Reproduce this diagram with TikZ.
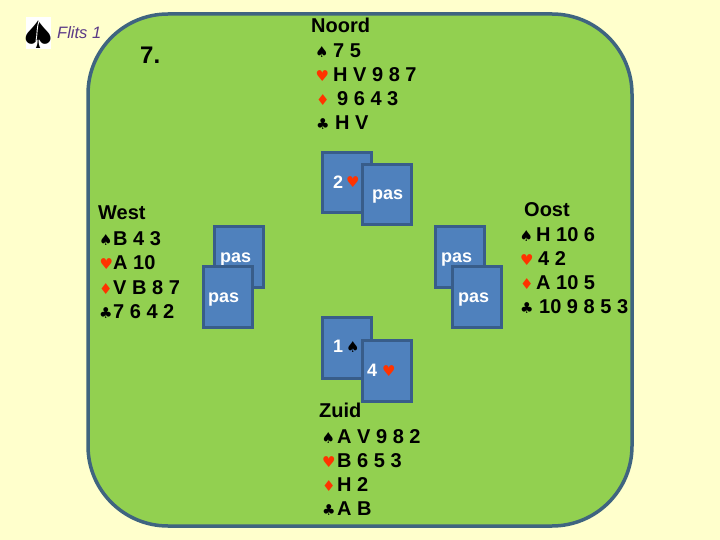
\documentclass[tikz,border=0pt]{standalone}
\usepackage{fontspec}
\setmainfont{Liberation Sans}
\newfontfamily\suitfont{DejaVu Sans}
\definecolor{bgc}{HTML}{FFFFCC}
\definecolor{boardc}{HTML}{92D050}
\definecolor{edgec}{HTML}{3F6480}
\definecolor{cardc}{HTML}{4F81BD}
\definecolor{cardedge}{HTML}{385D8A}
\definecolor{redsuit}{HTML}{FF3300}
\definecolor{purp}{HTML}{5B3A86}
\tikzset{
 x=1pt,y=-1pt,
 txt/.style={anchor=base west,inner sep=0pt,font=\fontsize{20}{24}\selectfont\bfseries,text=black},
 blk/.style={anchor=base west,inner sep=0pt,font=\fontsize{15}{18}\selectfont\suitfont,text=black},
 rd/.style={blk,text=redsuit},
 card/.style={draw=cardedge,line width=3pt,fill=cardc,minimum width=49pt,minimum height=60.5pt,inner sep=0pt,anchor=north west},
 ctxt/.style={anchor=base west,inner sep=0pt,font=\fontsize{18}{22}\selectfont\bfseries,text=white},
}
\begin{document}
\begin{tikzpicture}
\useasboundingbox (0,0) rectangle (720,540);
\fill[bgc] (0,0) rectangle (720,540);
\draw[draw=edgec,line width=3.5pt,fill=boardc,rounded corners=80pt] (88,14) rectangle (632,526);
% logo
\node[fill=white,minimum width=25pt,minimum height=32pt,inner sep=0pt,anchor=north west] (logo) at (26,17) {};
\node[inner sep=0pt,font=\fontsize{38}{40}\selectfont\suitfont,text=black,xscale=1.12] (logospade) at (39,35) {♠};
\draw[white,line width=0.9pt] (39.3,20) .. controls (36.5,27) and (37.5,34) .. (36,41);
\node[anchor=base west,inner sep=0pt,font=\fontsize{16.5}{18}\selectfont\itshape,text=purp] (flits) at (57,39) {Flits 1};
\node[anchor=base west,inner sep=0pt,font=\fontsize{24}{28}\selectfont\bfseries,text=black] (nr) at (140,64) {7.};
% North
\node[txt] (nN) at (311,33) {Noord};
\node[blk] (nS) at (315,57.7) {♠}; \node[txt] (nSt) at (333,57.7) {7 5};
\node[rd] (nH) at (315.5,81.7) {♥}; \node[txt] (nHt) at (333,81.7) {H V 9 8 7};
\node[rd] (nD) at (316,105.7) {♦}; \node[txt] (nDt) at (337,105.7) {9 6 4 3};
\node[blk] (nC) at (316,130) {♣}; \node[txt] (nCt) at (335,130) {H V};
% West
\node[txt] (wN) at (98,219) {West};
\node[blk] (wS) at (99,245) {♠}; \node[txt] (wSt) at (113,245) {B 4 3};
\node[rd] (wH) at (99.5,269) {♥}; \node[txt] (wHt) at (113,269) {A 10};
\node[rd] (wD) at (99,294) {♦}; \node[txt] (wDt) at (113,294) {V B 8 7};
\node[blk] (wC) at (99,318) {♣}; \node[txt] (wCt) at (113,318) {7 6 4 2};
% East
\node[txt] (eN) at (524,217) {Oost};
\node[blk] (eS) at (519.5,241) {♠}; \node[txt] (eSt) at (536,241) {H 10 6};
\node[rd] (eH) at (520,265) {♥}; \node[txt] (eHt) at (538,265) {4 2};
\node[rd] (eD) at (520,289) {♦}; \node[txt] (eDt) at (536,289) {A 10 5};
\node[blk] (eC) at (520,313) {♣}; \node[txt] (eCt) at (539,313) {10 9 8 5 3};
% South
\node[txt] (sN) at (319,417) {Zuid};
\node[blk] (sS) at (321.5,443) {♠}; \node[txt] (sSt) at (337,443) {A V 9 8 2};
\node[rd] (sH) at (322,467) {♥}; \node[txt] (sHt) at (337,467) {B 6 5 3};
\node[rd] (sD) at (322,491) {♦}; \node[txt] (sDt) at (337,491) {H 2};
\node[blk] (sC) at (322,515) {♣}; \node[txt] (sCt) at (337,515) {A B};
% cards
\node[card] (c1) at (321,151) {};
\node[ctxt] (c1t) at (333,189) {2};
\node[rd] (c1s) at (346,188) {♥};
\node[card] (c2) at (361,163) {};
\node[ctxt] (c2t) at (372,200) {pas};
\node[card] (c3) at (213,225) {};
\node[ctxt] (c3t) at (220,262.7) {pas};
\node[card] (c4) at (202,265) {};
\node[ctxt] (c4t) at (208,302.7) {pas};
\node[card] (c5) at (434,225) {};
\node[ctxt] (c5t) at (441,262.7) {pas};
\node[card] (c6) at (451,265) {};
\node[ctxt] (c6t) at (458,302.7) {pas};
\node[card] (c7) at (321,316) {};
\node[ctxt] (c7t) at (333,352.7) {1};
\node[blk] (c7s) at (346,352) {♠};
\node[card] (c8) at (361,339) {};
\node[ctxt] (c8t) at (367,376) {4};
\node[rd] (c8s) at (382,376) {♥};
\end{tikzpicture}
\end{document}
